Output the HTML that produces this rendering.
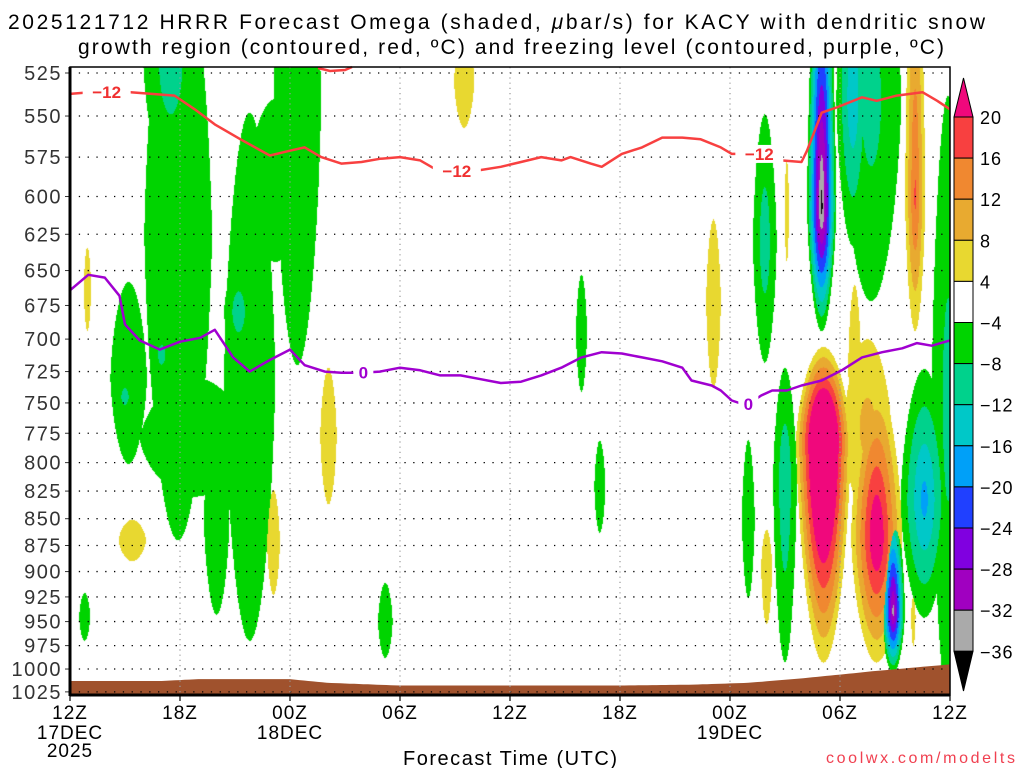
<!DOCTYPE html>
<html><head><meta charset="utf-8">
<style>
html,body{margin:0;padding:0;background:#fff;}
#wrap{position:relative;width:1024px;height:768px;overflow:hidden;font-family:"Liberation Sans",sans-serif;}
canvas{position:absolute;left:0;top:0;}
svg{position:absolute;left:0;top:0;}
</style></head>
<body>
<div id="wrap">
<canvas id="cv" width="1024" height="768"></canvas>
<svg id="sv" width="1024" height="768">
<text x="8" y="29" textLength="977" lengthAdjust="spacing" font-size="21" fill="#000">2025121712 HRRR Forecast Omega (shaded, <tspan font-style="italic">μ</tspan>bar/s) for KACY with dendritic snow</text>
<text x="78" y="54" textLength="866" lengthAdjust="spacing" font-size="21" fill="#000">growth region (contoured, red, ºC) and freezing level (contoured, purple, ºC)</text>
<text x="403" y="765" textLength="214" lengthAdjust="spacing" font-size="20" fill="#000">Forecast Time (UTC)</text>
<text x="826" y="763" textLength="189" lengthAdjust="spacing" font-size="16" fill="#f04050">coolwx.com/modelts</text>
</svg>
</div>
<script>
// ---- data ----
const pressureTicks=[525,550,575,600,625,650,675,700,725,750,775,800,825,850,875,900,925,950,975,1000,1025];
const timeTickHours=[0,6,12,18,24,30,36,42,48];
const timeTickLabels=["12Z","18Z","00Z","06Z","12Z","18Z","00Z","06Z","12Z"];
const timeTickDates=["17DEC","","18DEC","","","","19DEC","",""];
const colorLevels=[20,16,12,8,4,-4,-8,-12,-16,-20,-24,-28,-32,-36];
const blobHour=[5.9,5.5,3.2,3.0,5.0,6.8,8.0,9.8,9.2,12.4,12.5,11.2,0.8,0.95,3.4,11.1,14.1,21.5,27.9,28.9,17.2,35.1,37.9,39.1,41.0,43.7,42.7,46.1,47.9,39.0,38.0,37.0,41.1,44.0,43.5,44.9,46.6,40.9,46.0,42.8];
const blobHalfWidth=[1.85,1.5,1.0,0.6,0.6,3.0,0.7,1.4,0.8,1.3,0.9,1.5,0.3,0.2,0.75,0.35,0.45,0.55,0.3,0.3,0.4,0.4,0.65,0.12,0.8,1.65,0.9,0.55,0.9,0.65,0.3,0.35,1.5,1.4,1.3,0.65,1.3,0.25,0.12,0.35];
const blobTop=[450,480,658,725,690,730,764,548,645,420,480,540,921,634,851,824,722,500,653,781,911,615,549,577,440,440,440,440,538,722,860,781,706,733,700,839,723,955,925,660];
const blobCenter=[625,520,730,745,712,780,850,730,680,540,510,590,945,663,870,872,777,530,695,821,950,672,630,608,607,540,540,602,747,815,895,850,780,867,770,940,833,962,945,720];
const blobBottom=[870,590,801,765,735,830,943,970,715,720,540,644,970,694,890,923,837,557,741,863,988,738,718,644,694,672,633,694,1040,993,953,926,993,993,851,1005,946,970,976,780];
const blobPeak=[-7,-11,-7,-10,-10,-6,-6,-7,-11,-7,-10,-6,-6,6,6,6,6,6,-6,-6,-6,6,-11,5,-38,-10,-16,17,-10,-12,6,-6,40,26,10,-34,-18,-5,5,6];
const dgzHours=[0,1.1,3.3,5.7,6.8,7.9,9.3,10.9,12.0,12.8,13.7,14.8,15.9,16.9,18.0,19.1,20.0,21.9,23.5,24.6,25.7,26.8,27.3,28.4,29.0,30.1,31.2,32.3,33.4,34.4,35.5,36.1,38.0,38.8,39.9,40.2,41.0,41.8,43.2,44.0,45.1,46.5,47.3,48];
const dgzPressure=[537,536,536,538,546,555,564,574,571,569,575,579,578,576,575,577,583,584,581,578,575,577,575,579,581,573,569,563,563,564,569,573,573,577,578,571,548,545,539,541,538,536,541,546];
const frzHours=[0,1.0,1.9,2.7,3.0,3.8,4.9,6.0,7.1,7.9,8.9,9.8,10.9,12.0,12.8,13.9,14.8,15.9,16.9,18.0,19.1,20.2,21.3,22.4,23.5,24.6,25.7,26.8,27.9,29.0,30.1,31.2,32.3,33.4,33.9,35.0,35.5,36.1,36.9,37.7,38.3,39.1,39.9,41.0,42.1,43.2,44.3,45.4,46.2,47.0,48];
const frzPressure=[664,653,655,668,689,701,708,702,699,693,714,725,716,708,720,725,726,726,725,722,724,728,728,731,734,733,728,722,714,710,711,714,717,722,732,736,740,748,752,744,740,740,736,732,724,714,710,707,703,705,701];
const sfcHours=[0,5,7,12,14,18,24,30,34,37,40,44,48];
const sfcPressure=[1013,1013,1011,1011,1015,1018,1018,1018,1017,1015,1010,1002,995];
const dgzLabelHours=[2,21.1,37.6];
const frzLabelHours=[16.0,37.0];

// ---- scales ----
const X0=70,X1=950,Y0=67,Y1=695;
function xOf(h){return X0+h*(X1-X0)/48;}
function yOf(p){return 73+925*Math.log(p/525);}
function interp(hs,ps,h){for(let i=0;i<hs.length-1;i++){if(h>=hs[i]&&h<=hs[i+1]){const f=(h-hs[i])/(hs[i+1]-hs[i]);return ps[i]+f*(ps[i+1]-ps[i]);}}return ps[ps.length-1];}
const bandColors=["#f0087c","#f84040","#f08830","#e8aa30","#e8d830","#ffffff","#00d400","#00d28c","#00c8c8","#00a0f8","#2040ff","#8000e0","#a000c0","#aaaaaa","#000000"];
function colorFor(v){for(let i=0;i<colorLevels.length;i++){if(v>=colorLevels[i])return bandColors[i];}return bandColors[14];}
function hexRGB(c){return [parseInt(c.substr(1,2),16),parseInt(c.substr(3,2),16),parseInt(c.substr(5,2),16)];}

// ---- shading ----
const cv=document.getElementById('cv');const ctx=cv.getContext('2d');
const W=X1-X0,H=Y1-Y0;const img=ctx.createImageData(W,H);
const bl=blobHour.map((h,i)=>({x:xOf(h),w:blobHalfWidth[i]*(X1-X0)/48,yt:yOf(blobTop[i]),yc:yOf(blobCenter[i]),yb:yOf(blobBottom[i]),v:blobPeak[i]}));
for(let py=0;py<H;py++){const y=Y0+py+0.5;for(let px=0;px<W;px++){const x=X0+px+0.5;let best=0;
 for(const b of bl){const dx=(x-b.x)/b.w;if(dx>1.2||dx<-1.2)continue;const dy=y<b.yc?(y-b.yc)/(b.yc-b.yt):(y-b.yc)/(b.yb-b.yc);const ady=Math.abs(dy);const r=Math.sqrt(dx*dx/Math.max(0.05,1-0.35*ady)+dy*dy);if(r>1.2)continue;const a=Math.abs(b.v);const val=a*(1-r*(1-4/a));if(val>Math.abs(best))best=b.v<0?-val:val;}
 const c=hexRGB(colorFor(Math.abs(best)<4?0:best));const k=(py*W+px)*4;img.data[k]=c[0];img.data[k+1]=c[1];img.data[k+2]=c[2];img.data[k+3]=255;}}
ctx.putImageData(img,X0,Y0);

// ---- svg overlay ----
const NS="http://www.w3.org/2000/svg";const sv=document.getElementById('sv');
function mk(t,a,parent){const e=document.createElementNS(NS,t);for(const k in a)e.setAttribute(k,a[k]);(parent||sv).appendChild(e);return e;}
// ground
let gd="M"+X0+","+Y1;for(let h=0;h<=48;h+=0.25){gd+=" L"+xOf(h).toFixed(1)+","+yOf(interp(sfcHours,sfcPressure,h)).toFixed(1);}gd+=" L"+X1+","+Y1+" Z";
const ground=mk('path',{d:gd,fill:'#a0522d'});


// grid
pressureTicks.forEach(p=>{const y=yOf(p);
 const g=mk('line',{x1:X0,x2:X1,y1:y,y2:y,stroke:'#000','stroke-width':1.3,'stroke-dasharray':'1.3,7.5'});
 
 
 const s=String(p);
 const t=mk('text',{x:62,y:y+7,'text-anchor':'end','font-size':20,fill:'#333','letter-spacing':'1.5'});t.textContent=s;
 
 
 const tk=mk('line',{x1:X0-5,x2:X0,y1:y,y2:y,stroke:'#333','stroke-width':1});
 
 
});
timeTickHours.forEach((h,i)=>{const x=xOf(h);
 if(i>0&&i<timeTickHours.length-1){const g=mk('line',{x1:x,x2:x,y1:Y0,y2:Y1,stroke:'#999','stroke-width':1.2,'stroke-dasharray':'1.2,4'});
 
 }
 const tk=mk('line',{x1:x,x2:x,y1:Y1,y2:Y1+6,stroke:'#000','stroke-width':1.2});
 
 
 const t=mk('text',{x:x,y:719,'text-anchor':'middle','font-size':19,fill:'#000','letter-spacing':'1'});t.textContent=timeTickLabels[i];
 
 
 if(timeTickDates[i]){const d=mk('text',{x:x,y:739,'text-anchor':'middle','font-size':19,fill:'#000','letter-spacing':'1'});d.textContent=timeTickDates[i];
 
 }
});
const yr=mk('text',{x:70,y:757,'text-anchor':'middle','font-size':19,fill:'#000','letter-spacing':'1'});yr.textContent="2025";


// lines
function poly(hs,ps,col,name){const pts=hs.map((h,i)=>xOf(h).toFixed(1)+","+yOf(ps[i]).toFixed(1)).join(" ");
 const l=mk('polyline',{points:pts,fill:'none',stroke:col,'stroke-width':2.5,'stroke-linejoin':'round'});
 
 }
poly(dgzHours,dgzPressure,'#f84040','dgz-minus12-contour');
poly(frzHours,frzPressure,'#a000d0','freezing-level-contour');
const topRed=mk('polyline',{points:"318,68 330,71 345,70 352,67",fill:'none',stroke:'#f84040','stroke-width':2.5});


function lbl(h,ps,hs,txt,col,name){const x=xOf(h),y=yOf(interp(hs,ps,h));
 const r=mk('rect',{x:x-(txt.length*7+3),y:y-9,width:txt.length*14+6,height:18,fill:'#fff'});
 
 
 const t=mk('text',{x:x,y:y+6,'text-anchor':'middle','font-size':17,'font-weight':'bold',fill:col});t.textContent=txt;
 
 }
dgzLabelHours.forEach(h=>lbl(h,dgzPressure,dgzHours,"−12",'#f03030','dgz-contour-label'));
frzLabelHours.forEach(h=>lbl(h,frzPressure,frzHours,"0",'#a000d0','freezing-contour-label'));
// frame
const fr=mk('rect',{x:X0,y:Y0,width:X1-X0,height:Y1-Y0,fill:'none',stroke:'#000','stroke-width':1.5});


const lx=mk('line',{x1:X0,x2:X0,y1:Y0,y2:Y1+1,stroke:'#000','stroke-width':3});


const bx=mk('line',{x1:X0,x2:X1,y1:Y1,y2:Y1,stroke:'#000','stroke-width':3});


// colorbar
const CBX=954,CBW=19,cbTop=117,cbStep=41.1;
colorLevels.forEach((L,i)=>{const y=cbTop+i*cbStep;
 if(i<colorLevels.length-1){const r=mk('rect',{x:CBX,y:y,width:CBW,height:cbStep,fill:bandColors[i+1],stroke:'#000','stroke-width':1});
 
 }
 const t=mk('text',{x:980,y:y+7,'font-size':18,fill:'#000','letter-spacing':'1'});t.textContent=L<0?"−"+Math.abs(L):String(L);
 
 
});
const tt=mk('polygon',{points:CBX+","+cbTop+" "+(CBX+CBW)+","+cbTop+" "+(CBX+CBW/2)+",78",fill:bandColors[0],stroke:'#000','stroke-width':1});


const yB=cbTop+(colorLevels.length-1)*cbStep;
const bt=mk('polygon',{points:CBX+","+yB+" "+(CBX+CBW)+","+yB+" "+(CBX+CBW/2)+",691",fill:'#000',stroke:'#000','stroke-width':1});


</script>
</body></html>
